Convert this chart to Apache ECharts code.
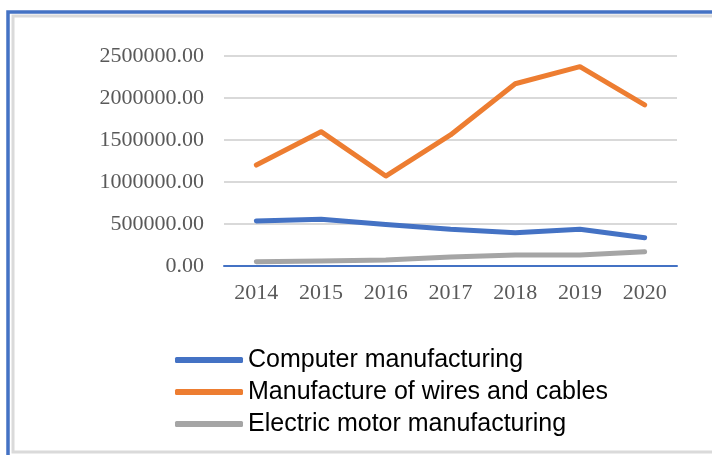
<!DOCTYPE html>
<html>
<head>
<meta charset="utf-8">
<script src="https://cdn.jsdelivr.net/npm/echarts@6/dist/echarts.min.js"></script>
<style>html,body{margin:0;padding:0;background:#fff}#c{width:712px;height:455px}</style>
</head>
<body>
<div id="c"></div>
<script>
var categories = ['2014','2015','2016','2017','2018','2019','2020'];
var computer = [536000, 556000, 495000, 437000, 397000, 437000, 337000];
var wires = [1202000, 1599000, 1071000, 1560000, 2170000, 2373000, 1917000];
var motor = [51000, 60000, 71000, 107000, 131000, 131000, 170000];
var seriesNames = ['Computer manufacturing', 'Manufacture of wires and cables', 'Electric motor manufacturing'];
var colors = ['#4472C4', '#ED7D31', '#A5A5A5'];

var chart = echarts.init(document.getElementById('c'));
function mk(name, data, color) {
  return {
    name: name, type: 'line', data: data, symbol: 'none',
    lineStyle: {color: color, width: 5, cap: 'round', join: 'round'},
    itemStyle: {color: color}
  };
}
chart.setOption({
  animation: false,
  backgroundColor: '#fff',
  graphic: [
    {type: 'rect', shape: {x: 8, y: 12, width: 720, height: 460}, style: {fill: 'none', stroke: '#4472C4', lineWidth: 3.5}},
    {type: 'rect', shape: {x: 13, y: 16, width: 720, height: 436}, style: {fill: 'none', stroke: '#DADADA', lineWidth: 3}}
  ],
  grid: {left: 224, right: 35, top: 56, bottom: 189},
  xAxis: {
    type: 'category', data: categories, boundaryGap: true,
    axisLine: {lineStyle: {color: '#4472C4', width: 2}},
    axisTick: {show: false},
    axisLabel: {color: '#595959', fontFamily: 'Liberation Serif', fontSize: 22, margin: 16}
  },
  yAxis: {
    type: 'value', min: 0, max: 2500000, interval: 500000,
    axisLine: {show: false}, axisTick: {show: false},
    splitLine: {lineStyle: {color: '#D9D9D9', width: 2}},
    axisLabel: {color: '#595959', fontFamily: 'Liberation Serif', fontSize: 22, margin: 20,
      formatter: function (v) { return v.toFixed(2); }}
  },
  legend: {
    orient: 'vertical', left: 170, top: 341,
    itemWidth: 68, itemHeight: 6, itemGap: 4,
    icon: 'roundRect',
    textStyle: {color: '#000', fontFamily: 'Liberation Sans', fontSize: 25, lineHeight: 28},
    data: seriesNames
  },
  series: [
    mk(seriesNames[0], computer, colors[0]),
    mk(seriesNames[1], wires, colors[1]),
    mk(seriesNames[2], motor, colors[2])
  ]
});
</script>
</body>
</html>
